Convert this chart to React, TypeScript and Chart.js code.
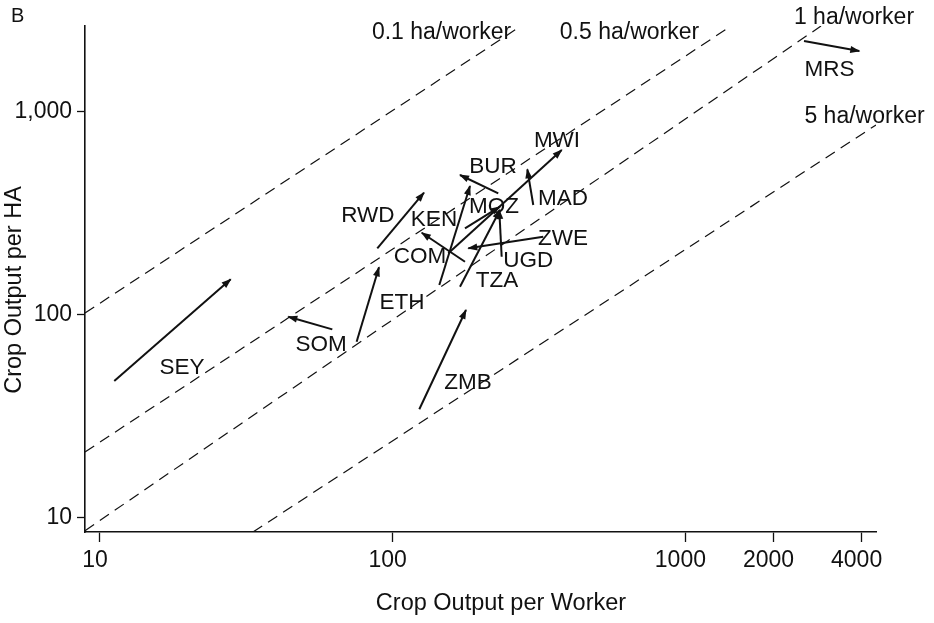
import React, { useEffect, useRef } from 'react';
import { Chart, registerables } from 'chart.js';

Chart.register(...registerables);

// ---- Data (crop output per worker = x, crop output per ha = y) ----
const countries = ['SEY', 'SOM', 'ETH', 'ZMB', 'RWD', 'KEN', 'COM', 'BUR', 'MOZ', 'MWI', 'MAD', 'ZWE', 'UGD', 'TZA', 'MRS'];
const startWorker = [11.19, 62.2, 75.3, 123.3, 88.6, 144.3, 176.6, 229.5, 176.6, 154.9, 302.2, 326.9, 235.7, 169.8, 2542];
const startHa = [47.1, 84.6, 73.5, 34.2, 212.1, 139.9, 182.2, 395.8, 266.2, 200.5, 346.7, 242.0, 192.9, 137.3, 2227];
const endWorker = [27.96, 44.0, 89.8, 178.0, 127.9, 183.7, 125.7, 169.8, 232.6, 378.0, 288.4, 181.3, 231.3, 232.6, 3928];
const endHa = [149.2, 97.6, 171.0, 105.4, 398.6, 430.0, 253.2, 487.3, 340.1, 646.9, 519.6, 212.1, 327.6, 327.6, 1988];
const labelWorker = [19.06, 56.9, 107.6, 180.9, 82.3, 138.4, 124.0, 220.1, 221.9, 364.2, 381.8, 381.8, 290.7, 227.1, 3108];
const labelHa = [54.6, 70.8, 114.1, 46.0, 306.0, 292.4, 192.2, 533.4, 340.0, 716.5, 371.2, 235.8, 183.7, 146.4, 1612];

const haLineLabels = ['0.1 ha/worker', '0.5 ha/worker', '1 ha/worker', '5 ha/worker'];
const haLineStartWorker = [8.889, 8.889, 8.889, 33.32];
const haLineStartHa = [101.8, 21.05, 8.62, 8.494];
const haLineEndWorker = [274.4, 1432, 2906, 4479];
const haLineEndHa = [2641, 2641, 2641, 859.4];
const haLabelWorker = [146.9, 644.2, 3767, 4092];
const haLabelHa = [2439, 2439, 2891, 940.6];

const xTickValues = [10, 100, 1000, 2000, 4000];
const yTickValues = [10, 100, 1000];
const xRange = [8.889, 4479];
const yRange = [8.494, 2641];

const FONT = "'Liberation Sans', Arial, Helvetica, sans-serif";
const INK = '#111';

const annotPlugin = {
  id: 'annot',
  afterDatasetsDraw(chart: any) {
    const { ctx, scales } = chart;
    const xs = scales.x;
    const ys = scales.y;
    ctx.save();
    ctx.fillStyle = INK;
    for (let i = 0; i < countries.length; i++) {
      const x1 = xs.getPixelForValue(startWorker[i]);
      const y1 = ys.getPixelForValue(startHa[i]);
      const x2 = xs.getPixelForValue(endWorker[i]);
      const y2 = ys.getPixelForValue(endHa[i]);
      const a = Math.atan2(y2 - y1, x2 - x1);
      const L = 9;
      const W = 3.5;
      const c = Math.cos(a);
      const s = Math.sin(a);
      ctx.beginPath();
      ctx.moveTo(x2 + c * 1, y2 + s * 1);
      ctx.lineTo(x2 - L * c + W * s, y2 - L * s - W * c);
      ctx.lineTo(x2 - L * c - W * s, y2 - L * s + W * c);
      ctx.closePath();
      ctx.fill();
    }
    ctx.restore();
  },
  afterDraw(chart: any) {
    const { ctx, scales } = chart;
    const xs = scales.x;
    const ys = scales.y;
    ctx.save();
    ctx.fillStyle = INK;
    ctx.textAlign = 'center';
    ctx.textBaseline = 'middle';
    ctx.font = `22.5px ${FONT}`;
    for (let i = 0; i < countries.length; i++) {
      ctx.fillText(countries[i], xs.getPixelForValue(labelWorker[i]), ys.getPixelForValue(labelHa[i]));
    }
    ctx.font = `23px ${FONT}`;
    for (let i = 0; i < haLineLabels.length; i++) {
      ctx.fillText(haLineLabels[i], xs.getPixelForValue(haLabelWorker[i]), ys.getPixelForValue(haLabelHa[i]));
    }
    // axis titles
    ctx.font = `23.5px ${FONT}`;
    ctx.fillText('Crop Output per Worker', 501, 604);
    ctx.save();
    ctx.translate(15, 290);
    ctx.rotate(-Math.PI / 2);
    ctx.fillText('Crop Output per HA', 0, 0);
    ctx.restore();
    // panel letter
    ctx.textAlign = 'left';
    ctx.font = `20px ${FONT}`;
    ctx.fillText('B', 11, 16);
    ctx.restore();
  },
};

export default function App() {
  const canvasRef = useRef<HTMLCanvasElement | null>(null);

  useEffect(() => {
    const canvas = canvasRef.current;
    if (!canvas) return;

    const lineSets = haLineLabels.map((lbl, i) => ({
      label: lbl,
      data: [
        { x: haLineStartWorker[i], y: haLineStartHa[i] },
        { x: haLineEndWorker[i], y: haLineEndHa[i] },
      ],
      showLine: true,
      borderColor: INK,
      borderWidth: 1.2,
      borderDash: [11, 7],
      pointRadius: 0,
      fill: false,
    }));

    const arrowSets = countries.map((c, i) => ({
      label: c,
      data: [
        { x: startWorker[i], y: startHa[i] },
        { x: endWorker[i], y: endHa[i] },
      ],
      showLine: true,
      borderColor: INK,
      borderWidth: 2,
      pointRadius: 0,
      fill: false,
    }));

    const chart = new Chart(canvas, {
      type: 'scatter',
      data: { datasets: [...lineSets, ...arrowSets] as any },
      options: {
        animation: false,
        responsive: false,
        devicePixelRatio: 1,
        layout: { padding: { left: 0, right: 58, top: 26, bottom: 0 } },
        plugins: {
          legend: { display: false },
          tooltip: { enabled: false },
        },
        scales: {
          x: {
            type: 'logarithmic',
            min: xRange[0],
            max: xRange[1],
            afterBuildTicks: (s: any) => {
              s.ticks = xTickValues.map((v) => ({ value: v }));
            },
            afterFit: (s: any) => {
              s.height = 91;
            },
            ticks: {
              autoSkip: false,
              maxRotation: 0,
              minRotation: 0,
              padding: 5,
              labelOffset: -5,
              color: INK,
              font: { family: FONT, size: 23 },
              callback: (v: any) => String(v),
            },
            grid: {
              display: true,
              drawOnChartArea: false,
              drawTicks: true,
              tickLength: 10,
              tickColor: INK,
              tickWidth: 1.3,
            },
            border: { display: true, color: INK, width: 1.6 },
          },
          y: {
            type: 'logarithmic',
            min: yRange[0],
            max: yRange[1],
            afterBuildTicks: (s: any) => {
              s.ticks = yTickValues.map((v) => ({ value: v }));
            },
            afterFit: (s: any) => {
              s.width = 85;
            },
            ticks: {
              autoSkip: false,
              padding: 5,
              color: INK,
              font: { family: FONT, size: 23 },
              callback: (v: any) => Number(v).toLocaleString('en-US'),
            },
            grid: {
              display: true,
              drawOnChartArea: false,
              drawTicks: true,
              tickLength: 8,
              tickColor: INK,
              tickWidth: 1.3,
            },
            border: { display: true, color: INK, width: 1.6 },
          },
        },
      },
      plugins: [annotPlugin],
    } as any);

    return () => {
      chart.destroy();
    };
  }, []);

  return (
    <div style={{ position: 'absolute', left: 0, top: 0, width: 934, height: 623, background: '#fff' }}>
      <canvas ref={canvasRef} width={934} height={623} style={{ display: 'block' }} />
    </div>
  );
}
